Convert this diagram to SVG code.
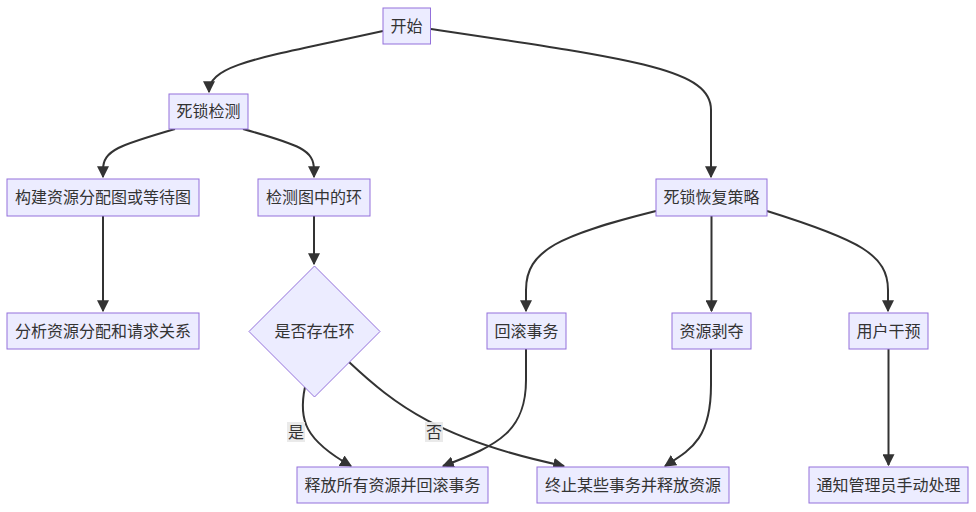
<svg xmlns="http://www.w3.org/2000/svg" width="976" height="512" viewBox="0 0 976 512">
<defs>
<marker id="arr" viewBox="0 0 10 10" refX="9" refY="5" markerWidth="6" markerHeight="6" markerUnits="strokeWidth" orient="auto">
<path d="M0,0 L10,5 L0,10 z" fill="#333"/>
</marker>
<style>
.n rect,.n polygon{fill:#ECECFF;stroke:#9370DB;stroke-width:1}
text{font-family:"Noto Sans CJK SC","Noto Sans",sans-serif;font-size:16px;fill:#333;text-anchor:middle}
.e path{fill:none;stroke:#333;stroke-width:2;marker-end:url(#arr)}
.lb{fill:#e8e8e8;opacity:0.9}
</style>
</defs>
<rect width="976" height="512" fill="#fff"/>
<g id="edges" class="e">
<path d="M383,31 C260,58 209,64 209,92"/>
<path d="M431,29 C640,60 711,70 711,110 L711,177"/>
<path d="M175,129 C120,145 103,150 103,170 L103,177"/>
<path d="M243,129 C300,145 314,150 314,170 L314,177"/>
<path d="M103,216 L103,311"/>
<path d="M314,216 L314,264"/>
<path d="M305,387 C298,420 305,440 351,466"/>
<path d="M349,362 C395,405 440,440 564,466"/>
<path d="M656,211 C560,235 526,250 526,290 L526,311"/>
<path d="M711.5,216 L711.5,311"/>
<path d="M767,211 C860,240 888,255 888,290 L888,311"/>
<path d="M526,349 L526,380 C526,430 500,445 443,466"/>
<path d="M711,349 L711,385 C711,440 690,450 665,466"/>
<path d="M888.5,349 L888.5,465"/>
</g>
<g id="edge-labels">
<rect class="lb" x="287" y="422" width="18" height="20"/>
<text x="296" y="438">是</text>
<rect class="lb" x="425" y="422" width="18" height="20"/>
<text x="434" y="438">否</text>
</g>
<g id="start" class="n"><rect x="383" y="8" width="47.5" height="36"/><text x="406.5" y="31.5">开始</text></g>
<g id="detect" class="n"><rect x="169" y="94" width="79" height="35"/><text x="208.5" y="117">死锁检测</text></g>
<g id="build" class="n"><rect x="7" y="179" width="192" height="37"/><text x="103" y="203">构建资源分配图或等待图</text></g>
<g id="cycle" class="n"><rect x="258" y="179" width="112" height="37"/><text x="314" y="203">检测图中的环</text></g>
<g id="analyze" class="n"><rect x="7" y="313" width="192" height="36"/><text x="103" y="336.5">分析资源分配和请求关系</text></g>
<g id="decision" class="n"><polygon points="314.5,266 380,331.5 314.5,397 249,331.5"/><text x="314.5" y="337">是否存在环</text></g>
<g id="recover" class="n"><rect x="656" y="179" width="111" height="37"/><text x="711.5" y="203">死锁恢复策略</text></g>
<g id="rollback" class="n"><rect x="487" y="313" width="79" height="36"/><text x="526.5" y="336.5">回滚事务</text></g>
<g id="preempt" class="n"><rect x="672" y="313" width="79" height="36"/><text x="711.5" y="336.5">资源剥夺</text></g>
<g id="user" class="n"><rect x="849" y="313" width="79" height="36"/><text x="888.5" y="336.5">用户干预</text></g>
<g id="release" class="n"><rect x="297" y="467" width="191" height="36"/><text x="392.5" y="490.5">释放所有资源并回滚事务</text></g>
<g id="terminate" class="n"><rect x="537" y="467" width="192" height="36"/><text x="633" y="490.5">终止某些事务并释放资源</text></g>
<g id="notify" class="n"><rect x="809" y="467" width="159" height="36"/><text x="888.5" y="490.5">通知管理员手动处理</text></g>
</svg>
